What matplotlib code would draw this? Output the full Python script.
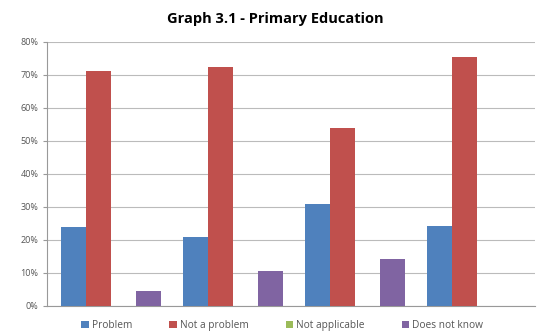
import matplotlib.pyplot as plt
import numpy as np

plt.rcParams['font.family'] = ['Open Sans', 'DejaVu Sans']

groups = ['1', '2', '3', '4']
series = ['Problem', 'Not a problem', 'Not applicable', 'Does not know']
problem = [24.0, 21.0, 31.0, 24.3]
not_problem = [71.3, 72.5, 54.0, 75.3]
not_applicable = [0, 0, 0, 0]
does_not_know = [4.5, 10.6, 14.3, 0]
colors = ['#4F81BD', '#C0504D', '#9BBB59', '#8064A2']

fig = plt.figure(figsize=(5.46, 3.35), dpi=100)
ax = fig.add_axes([0.086, 0.087, 0.894, 0.788])

x = np.arange(len(groups))
w = 0.205
data = [problem, not_problem, not_applicable, does_not_know]
for i, (vals, name, c) in enumerate(zip(data, series, colors)):
    ax.bar(x + (i - 1.5) * w, vals, w, color=c, label=name, zorder=3)

ax.set_xlim(-0.525, 3.475)
ax.set_ylim(0, 80)
ax.set_yticks(range(0, 81, 10))
ax.set_yticklabels([f'{v}%' for v in range(0, 81, 10)], fontsize=6.5, color='#555555')
ax.set_xticks([])
ax.yaxis.grid(True, color='#BBBBBB', linewidth=0.8, zorder=0)
for s in ['top', 'right']:
    ax.spines[s].set_visible(False)
ax.spines['left'].set_color('#999999')
ax.spines['bottom'].set_color('#999999')
ax.tick_params(axis='y', length=3, color='#999999', pad=3)

fig.text(0.505, 0.942, 'Graph 3.1 - Primary Education', fontsize=10.5,
         fontweight='bold', ha='center', va='center')
fig.legend(loc='center', bbox_to_anchor=(0.517, 0.027), ncol=4, frameon=False,
           fontsize=7.3, handlelength=0.7, handleheight=0.7, handletextpad=0.3,
           columnspacing=3.7, labelcolor='#555555')

fig.savefig('out.png', dpi=100)
